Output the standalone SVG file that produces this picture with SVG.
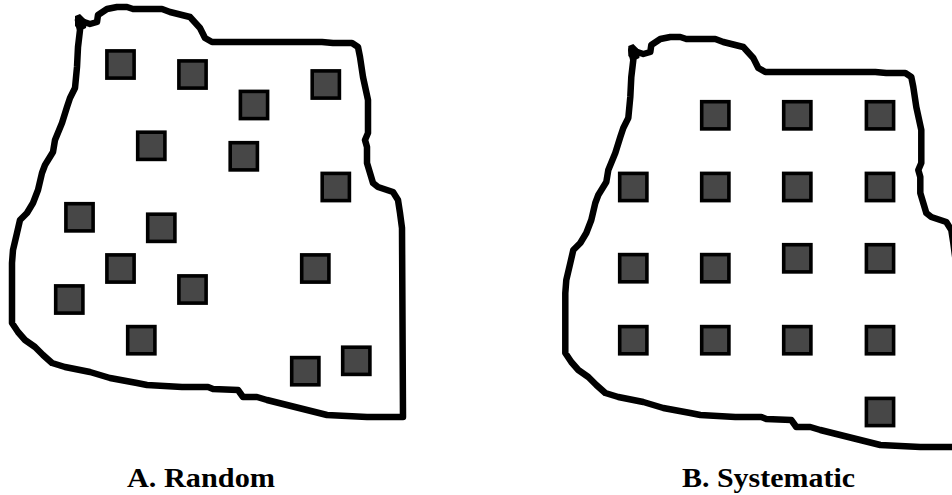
<svg xmlns="http://www.w3.org/2000/svg" width="952" height="495" viewBox="0 0 952 495">
  <style>
    .outline { fill: none; stroke: #000; stroke-width: 6.5; stroke-linejoin: round; stroke-linecap: round; }
    .blob { fill: #000; }
    .plot { fill: #474747; stroke: #000; stroke-width: 3.6; }
    .label { font-family: "Liberation Serif", "Times New Roman", serif; font-weight: bold; font-size: 28px; fill: #000; }
  </style>
  <defs>
    <!-- irregular field boundary, shared by both panels -->
    <g id="field">
      <path class="outline" d="M80,30 L78,20 L90,24 L97,22 L98,15 L107,9 L117,7 L127,7 L133,9 L162,9 L170,12 L182,15 L190,17 L200,28 L205,38 L212,42 L322,42 L333,43 L352,43 L358,47 L360,57 L363,77 L368,100 L368,133 L365,140 L367,147 L367,163 L370,173 L373,183 L378,187 L393,192 L398,200 L400,213 L402,228 L403,417 L367,417 L327,415 L307,410 L267,400 L257,397 L243,397 L238,390 L213,389 L208,387 L182,387 L147,385 L137,383 L110,378 L90,372 L65,367 L52,363 L43,355 L35,347 L25,340 L18,332 L12,323 L12,263 L13,250 L17,233 L20,220 L27,213 L33,203 L38,190 L42,173 L45,165 L53,152 L55,140 L62,123 L67,107 L70,98 L75,88 L77,67 L78,47 Z"/>
      <!-- small ink blot at the top-left corner -->
      <path class="blob" d="M75,16 L80,14 L87,21 L86,28 L80,31 L75,26 Z"/>
    </g>
    <rect id="plot" class="plot" x="-13.6" y="-13.6" width="27.2" height="27.2"/>
  </defs>

  <!-- Panel A: random sampling -->
  <g id="panel-a">
    <use href="#field"/>
    <g id="plots-a">
      <use href="#plot" x="120.5" y="64.5"/>
      <use href="#plot" x="192.5" y="74.5"/>
      <use href="#plot" x="254" y="105"/>
      <use href="#plot" x="325.8" y="84.5"/>
      <use href="#plot" x="151.3" y="145.8"/>
      <use href="#plot" x="243.8" y="156.3"/>
      <use href="#plot" x="335.8" y="187"/>
      <use href="#plot" x="79.5" y="217.3"/>
      <use href="#plot" x="161.3" y="227.8"/>
      <use href="#plot" x="120.5" y="268.5"/>
      <use href="#plot" x="315.3" y="268.5"/>
      <use href="#plot" x="69.3" y="299.5"/>
      <use href="#plot" x="192.5" y="289.5"/>
      <use href="#plot" x="141.3" y="340.2"/>
      <use href="#plot" x="305.3" y="371.2"/>
      <use href="#plot" x="356.3" y="360.8"/>
    </g>
    <text class="label" x="127" y="487" textLength="148" lengthAdjust="spacingAndGlyphs">A. Random</text>
  </g>

  <!-- Panel B: systematic sampling -->
  <g id="panel-b">
    <use href="#field" transform="translate(553.3,30)"/>
    <g id="plots-b">
      <use href="#plot" x="715.3" y="115.3"/>
      <use href="#plot" x="797.3" y="115.3"/>
      <use href="#plot" x="880" y="115.3"/>
      <use href="#plot" x="633.3" y="187"/>
      <use href="#plot" x="715.3" y="187"/>
      <use href="#plot" x="797.3" y="187"/>
      <use href="#plot" x="880" y="187"/>
      <use href="#plot" x="633.3" y="268.2"/>
      <use href="#plot" x="715.3" y="268.2"/>
      <use href="#plot" x="797.3" y="258.3"/>
      <use href="#plot" x="880" y="258.3"/>
      <use href="#plot" x="633.3" y="340.2"/>
      <use href="#plot" x="715.3" y="340.2"/>
      <use href="#plot" x="797.3" y="340.2"/>
      <use href="#plot" x="880" y="340.2"/>
      <use href="#plot" x="880" y="412"/>
    </g>
    <text class="label" x="682" y="487" textLength="173" lengthAdjust="spacingAndGlyphs">B. Systematic</text>
  </g>
</svg>
